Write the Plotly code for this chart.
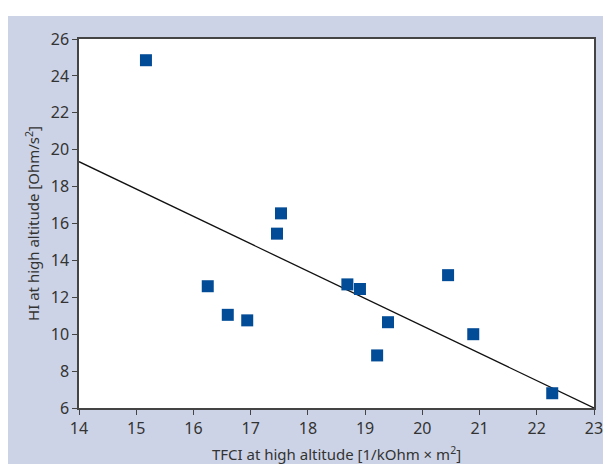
import plotly.graph_objects as go

# Data
tfci = [15.17, 16.25, 16.60, 16.94, 17.46, 17.53, 18.69, 18.91, 19.21, 19.40, 20.45, 20.89, 22.27]
hi = [24.85, 12.6, 11.05, 10.75, 15.45, 16.55, 12.7, 12.45, 8.85, 10.65, 13.2, 10.0, 6.8]
fit_x = [14, 23]
fit_y = [19.35, 6.0]
x_ticks = [14, 15, 16, 17, 18, 19, 20, 21, 22, 23]
y_ticks = [6, 8, 10, 12, 14, 16, 18, 20, 22, 24, 26]

LAV = "#cdd3e6"
FONT = "Noto Sans"

W, H = 603, 456
L, R, T, B = 71, 17, 31, 56
PH = H - T - B

fig = go.Figure()
fig.add_trace(go.Scatter(x=fit_x, y=fit_y, mode="lines",
                         line=dict(color="#111111", width=1.3),
                         showlegend=False, hoverinfo="skip", cliponaxis=False))
fig.add_trace(go.Scatter(x=tfci, y=hi, mode="markers",
                         marker=dict(symbol="square", size=12, color="#024b96",
                                     line=dict(width=0)),
                         showlegend=False, cliponaxis=False))

axis_common = dict(showgrid=False, zeroline=False, showline=True, mirror=True,
                   linecolor="#444444", linewidth=1.5, ticks="outside", ticklen=5,
                   tickcolor="#444444", tickwidth=1, automargin=False,
                   tickfont=dict(family=FONT, size=16, color="#333333"))

fig.update_layout(
    width=W, height=H,
    margin=dict(l=L, r=R, t=T, b=B),
    paper_bgcolor=LAV, plot_bgcolor="white",
    xaxis=dict(range=[14, 23], tickvals=x_ticks, **axis_common,
               title=dict(text="TFCI at high altitude [1/kOhm × m<sup>2</sup>]",
                          font=dict(family=FONT, size=15, color="#333333"), standoff=15)),
    yaxis=dict(range=[6, 26], tickvals=y_ticks, **axis_common,
               title=dict(text="HI at high altitude [Ohm/s<sup>2</sup>]",
                          font=dict(family=FONT, size=15, color="#333333"), standoff=7)),
    shapes=[
        dict(type="rect", xref="paper", yref="paper", x0=-0.3, x1=1.3,
             y0=(H - B - 8) / PH, y1=1.3, fillcolor="white", line=dict(width=0), layer="above"),
    ],
)

fig.write_html("out.html")
